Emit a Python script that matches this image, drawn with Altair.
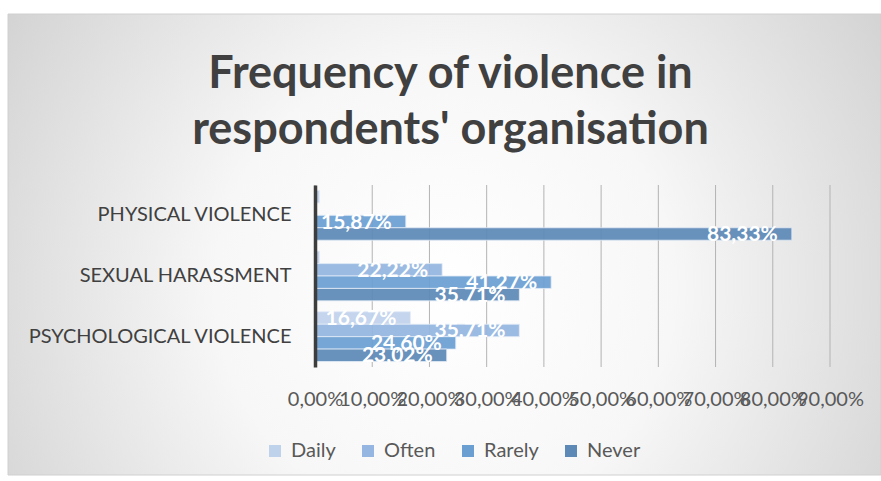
import altair as alt
import pandas as pd

# Survey categories and the share of respondents per frequency answer
categories = ["PHYSICAL VIOLENCE", "SEXUAL HARASSMENT", "PSYCHOLOGICAL VIOLENCE"]
frequencies = ["Daily", "Often", "Rarely", "Never"]
daily = [0.0079, 0.0079, 0.1667]
often = [0.0, 0.2222, 0.3571]
rarely = [0.1587, 0.4127, 0.2460]
never = [0.8333, 0.3571, 0.2302]
x_ticks = [0.0, 0.1, 0.2, 0.3, 0.4, 0.5, 0.6, 0.7, 0.8, 0.9]

palette = ["#bfd2ec", "#95b6e0", "#6b9fd2", "#5d89b6"]

rows = []
for series_name, values in zip(frequencies, [daily, often, rarely, never]):
    for cat, v in zip(categories, values):
        rows.append({"category": cat, "frequency": series_name, "share": v})
df = pd.DataFrame(rows)
ticks_df = pd.DataFrame({"share": x_ticks})

FONT = "Lato"
PLOT_W, PLOT_H = 515, 182
PAD_L, PAD_T = 315, 185

x_scale = alt.Scale(domain=[0, 0.9], nice=False)

y_enc = alt.Y(
    "category:N",
    sort=categories,
    scale=alt.Scale(paddingInner=0.18, paddingOuter=0.09),
    axis=alt.Axis(
        title=None,
        labelFont=FONT,
        labelFontSize=20,
        labelColor="#404040",
        labelPadding=24,
        labelLimit=400,
        ticks=False,
        domain=True,
        domainColor="#3d3d3d",
        domainWidth=3.5,
        grid=False,
        zindex=2,
    ),
)
y_off = alt.YOffset("frequency:N", sort=frequencies, scale=alt.Scale(paddingInner=0, paddingOuter=0))

x_enc = alt.X(
    "share:Q",
    scale=x_scale,
    axis=alt.Axis(
        title=None,
        values=x_ticks,
        labelExpr="replace(format(datum.value, '.2%'), '.', ',')",
        labelFont=FONT,
        labelFontSize=20,
        labelColor="#595959",
        labelPadding=22,
        labelOverlap=False,
        labelBound=False,
        labelFlush=False,
        ticks=False,
        domain=False,
        grid=False,
        zindex=2,
    ),
)

# Soft radial backdrop behind the whole chart
backdrop = alt.Chart(alt.Data(values=[{"b": 1}])).mark_rect(
    fill=alt.RadialGradient(
        gradient="radial",
        stops=[
            alt.GradientStop(offset=0, color="#ffffff"),
            alt.GradientStop(offset=0.35, color="#f7f7f7"),
            alt.GradientStop(offset=1, color="#c2c2c2"),
        ],
        x1=0.5, y1=0.55, r1=0,
        x2=0.5, y2=0.55, r2=0.75,
    ),
    stroke="#d0d0d0",
    strokeWidth=1,
).encode(
    x=alt.value(8 - PAD_L),
    x2=alt.value(881 - PAD_L),
    y=alt.value(14 - PAD_T),
    y2=alt.value(475 - PAD_T),
)

# Vertical gridlines at each tick
grid = alt.Chart(ticks_df).mark_rule(color="#b3b3b3", strokeWidth=1).encode(
    x=x_enc
)

bars = alt.Chart(df).mark_bar(
    stroke="#e4ecf7", strokeWidth=1, strokeOpacity=0.8, fillOpacity=0.93
).encode(
    x=x_enc,
    y=y_enc,
    yOffset=y_off,
    color=alt.Color(
        "frequency:N",
        sort=frequencies,
        scale=alt.Scale(domain=frequencies, range=palette),
        legend=alt.Legend(
            title=None,
            orient="none",
            direction="horizontal",
            legendX=-50,
            legendY=256,
            symbolType="square",
            symbolSize=144,
            symbolStrokeWidth=0,
            labelFont=FONT,
            labelFontSize=20,
            labelColor="#595959",
            labelOffset=6,
            columnPadding=22,
            zindex=2,
        ),
    ),
)

labels = alt.Chart(df).transform_filter(
    alt.datum.share >= 0.05
).transform_calculate(
    txt="replace(format(datum.share, '.2%'), '.', ',')"
).mark_text(
    align="right",
    baseline="middle",
    dx=-14,
    dy=1,
    font=FONT,
    fontSize=21,
    fontWeight="bold",
    color="white",
).encode(
    x=alt.X("share:Q"),
    y=alt.Y("category:N", sort=categories),
    yOffset=alt.YOffset("frequency:N", sort=frequencies),
    text="txt:N",
)

chart = alt.layer(backdrop, grid, bars, labels).properties(
    width=PLOT_W,
    height=PLOT_H,
    autosize=alt.AutoSizeParams(type="none"),
    padding={"left": PAD_L, "top": PAD_T, "right": 881 - PAD_L - PLOT_W, "bottom": 481 - PAD_T - PLOT_H},
    title=alt.Title(
        text=["Frequency of violence in", "respondents' organisation"],
        font=FONT,
        fontSize=45,
        fontWeight="bold",
        color="#404040",
        anchor="middle",
        frame="group",
        dx=-122,
        dy=139,
        offset=0,
        lineHeight=56,
        zindex=2,
    ),
).configure_view(stroke=None).configure(background="white")

chart.save("out.html", embed_options={"renderer": "svg", "actions": False})
